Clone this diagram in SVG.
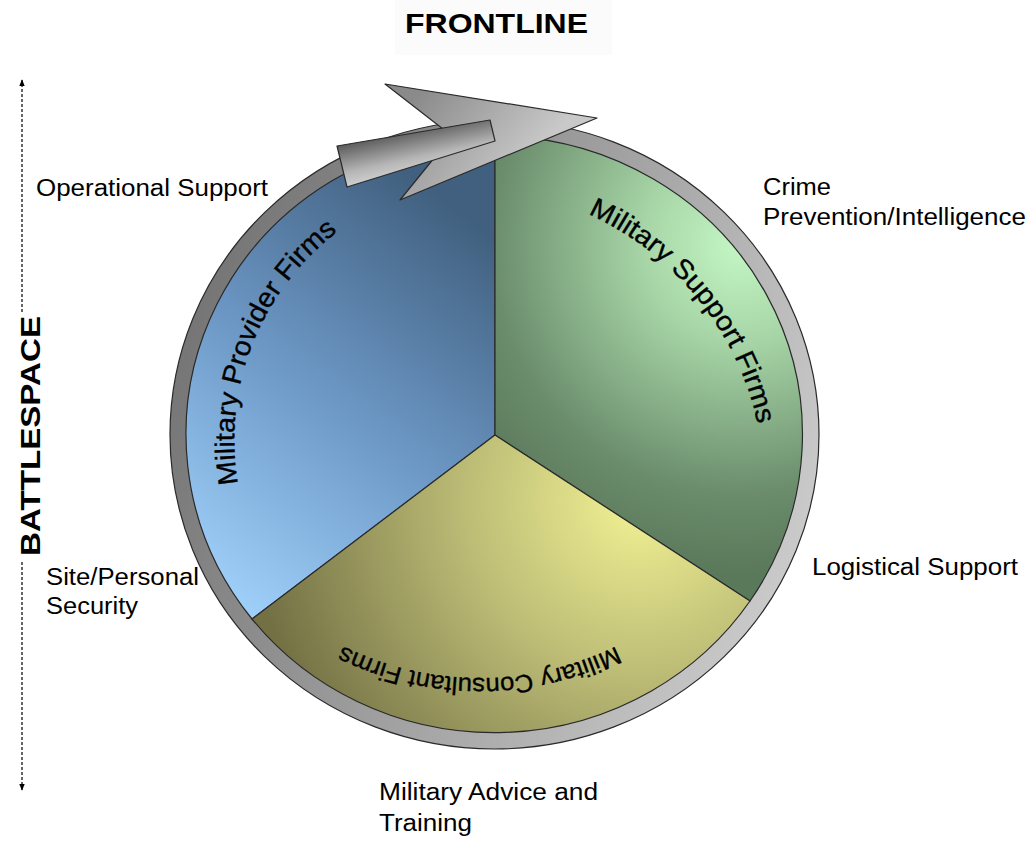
<svg xmlns="http://www.w3.org/2000/svg" width="1033" height="842" viewBox="0 0 1033 842">
<style>
.lbl{font-family:"Liberation Sans",Arial,sans-serif;font-size:23px;fill:#000}
.big{font-family:"Liberation Sans",Arial,sans-serif;font-weight:bold;fill:#000}
.arc{font-family:"Liberation Sans",Arial,sans-serif;fill:#000;stroke:#000;stroke-width:0.35}
.edge{stroke:#2a2a2a;stroke-width:1.2;stroke-linejoin:round}
.dash{stroke:#000;stroke-width:1.2;stroke-dasharray:3,2;fill:none}
</style>
<defs>
<linearGradient id="gRing" gradientUnits="userSpaceOnUse" x1="170" y1="300" x2="820" y2="560">
<stop offset="0" stop-color="#727272"/><stop offset="1" stop-color="#cdcdcd"/>
</linearGradient>
<linearGradient id="gBlue" gradientUnits="userSpaceOnUse" x1="200" y1="580" x2="470" y2="220">
<stop offset="0" stop-color="#9fd0fa"/><stop offset="0.5" stop-color="#6c97c5"/><stop offset="1" stop-color="#41607f"/>
</linearGradient>
<radialGradient id="gGreen" gradientUnits="userSpaceOnUse" cx="740" cy="245" r="330">
<stop offset="0" stop-color="#c4f6c4"/><stop offset="0.3" stop-color="#a6d4a6"/><stop offset="0.75" stop-color="#6b8d6c"/><stop offset="1" stop-color="#5a785a"/>
</radialGradient>
<radialGradient id="gYellow" gradientUnits="userSpaceOnUse" cx="640" cy="500" r="390">
<stop offset="0" stop-color="#f2f294"/><stop offset="0.45" stop-color="#bcbc76"/><stop offset="1" stop-color="#737044"/>
</radialGradient>
<linearGradient id="gHead" gradientUnits="userSpaceOnUse" x1="420" y1="90" x2="520" y2="175">
<stop offset="0" stop-color="#8a8a8a"/><stop offset="1" stop-color="#c9c9c9"/>
</linearGradient>
<linearGradient id="gShaft" gradientUnits="userSpaceOnUse" x1="400" y1="132" x2="410" y2="178">
<stop offset="0" stop-color="#5a5a5a"/><stop offset="0.6" stop-color="#b5b5b5"/><stop offset="1" stop-color="#d8d8d8"/>
</linearGradient>
<marker id="ah" viewBox="0 0 10 10" refX="9" refY="5" markerWidth="7" markerHeight="7" orient="auto-start-reverse" markerUnits="userSpaceOnUse">
<path d="M0,1 L10,5 L0,9 Z" fill="#000"/>
</marker>
<path id="pProv" d="M238,484 A262,262 0 0 1 340,230"/>
<path id="pSup" d="M588,214 A300,300 0 0 1 758,426"/>
<path id="pCon" d="M616,646 A307,307 0 0 1 341,645"/>
</defs>

<g id="frontline">
<rect x="395" y="0" width="217" height="55" fill="#fbfbfb"/>
<text class="big" x="405" y="33" font-size="28" textLength="183" lengthAdjust="spacingAndGlyphs">FRONTLINE</text>
</g>

<g id="battlespace">
<text class="big" transform="translate(40,556) rotate(-90)" x="0" y="0" font-size="28.5" textLength="240" lengthAdjust="spacingAndGlyphs">BATTLESPACE</text>
</g>

<g id="connectors">
<line class="dash" x1="22" y1="312" x2="22" y2="80" marker-end="url(#ah)"/>
<line class="dash" x1="22" y1="562" x2="22" y2="790" marker-end="url(#ah)"/>
</g>

<g id="ring">
<ellipse cx="494.5" cy="434.5" rx="324.5" ry="314.5" fill="url(#gRing)" class="edge"/>
</g>

<g id="provider">
<path d="M495,435 L495,136 A308.5,298.5 0 0 0 252,619 Z" fill="url(#gBlue)" class="edge"/>
<text class="arc" font-size="27.5"><textPath href="#pProv" textLength="285" lengthAdjust="spacingAndGlyphs">Military Provider Firms</textPath></text>
</g>

<g id="support">
<path d="M495,435 L495,136 A308.5,298.5 0 0 1 750,601 Z" fill="url(#gGreen)" class="edge"/>
<text class="arc" font-size="27.5"><textPath href="#pSup" textLength="280" lengthAdjust="spacingAndGlyphs">Military Support Firms</textPath></text>
</g>

<g id="consultant">
<path d="M495,435 L750,601 A308.5,298.5 0 0 1 252,619 Z" fill="url(#gYellow)" class="edge"/>
<text class="arc" font-size="25"><textPath href="#pCon" textLength="283" lengthAdjust="spacingAndGlyphs">Military Consultant Firms</textPath></text>
</g>

<g id="arrow">
<polygon points="385,84 597,118 400,200 452,136" fill="url(#gHead)" class="edge"/>
<polygon points="337,146 490,120 495,141 347,187" fill="url(#gShaft)" class="edge"/>
</g>

<g id="labels">
<text class="lbl" x="36" y="196" textLength="232" lengthAdjust="spacingAndGlyphs">Operational Support</text>
<text class="lbl" x="763" y="195" textLength="68" lengthAdjust="spacingAndGlyphs">Crime</text>
<text class="lbl" x="763" y="225" textLength="263" lengthAdjust="spacingAndGlyphs">Prevention/Intelligence</text>
<text class="lbl" x="812" y="575" textLength="206" lengthAdjust="spacingAndGlyphs">Logistical Support</text>
<text class="lbl" x="46" y="585" textLength="153" lengthAdjust="spacingAndGlyphs">Site/Personal</text>
<text class="lbl" x="46" y="614" textLength="92" lengthAdjust="spacingAndGlyphs">Security</text>
<text class="lbl" x="379" y="800" textLength="219" lengthAdjust="spacingAndGlyphs">Military Advice and</text>
<text class="lbl" x="379" y="831" textLength="93" lengthAdjust="spacingAndGlyphs">Training</text>
</g>
</svg>
